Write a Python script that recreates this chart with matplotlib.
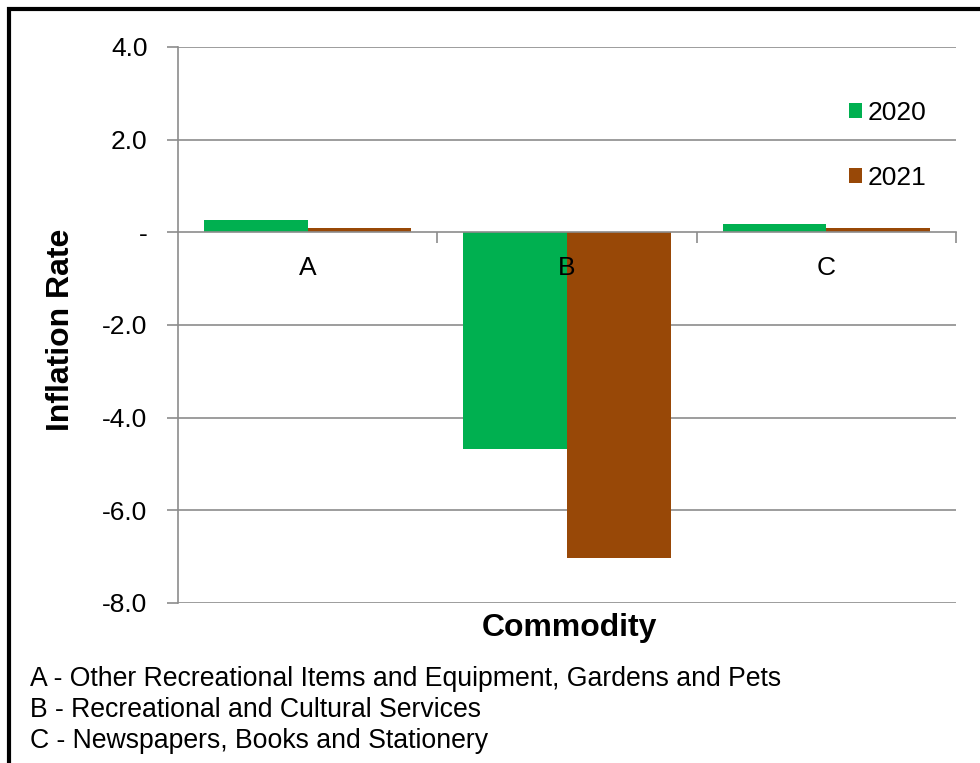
import matplotlib
matplotlib.use("Agg")
import matplotlib.pyplot as plt
from matplotlib.patches import Patch, Rectangle
import numpy as np

plt.rcParams['font.family'] = ['Liberation Sans', 'DejaVu Sans']

categories = ["A", "B", "C"]
series_names = ["2020", "2021"]
values_2020 = [0.27, -4.68, 0.18]
values_2021 = [0.09, -7.03, 0.09]
colors = ["#00B050", "#984807"]
yticks = [4.0, 2.0, 0.0, -2.0, -4.0, -6.0, -8.0]
footnotes = [
    "A - Other Recreational Items and Equipment, Gardens and Pets",
    "B - Recreational and Cultural Services",
    "C - Newspapers, Books and Stationery",
]

W, H = 980, 763
fig = plt.figure(figsize=(W / 100, H / 100), dpi=100)
ax = fig.add_axes([178 / W, 1 - 603 / H, (956 - 178) / W, (603 - 47) / H])

x = np.arange(len(categories))
bw = 0.4
ax.bar(x - bw / 2, values_2020, bw, color=colors[0], label=series_names[0], zorder=2)
ax.bar(x + bw / 2, values_2021, bw, color=colors[1], label=series_names[1], zorder=2)
ax.set_axisbelow(False)

grid_c = "#8c8c8c"
ax.set_xlim(-0.5, 2.5)
ax.set_ylim(-8, 4)
ax.set_yticks(yticks)
ax.set_yticklabels(["-" if v == 0 else f"{v:.1f}" for v in yticks])
for v in yticks:
    if v != 0:
        ax.axhline(v, color=grid_c, lw=1.2, zorder=1)

for s in ["top", "right"]:
    ax.spines[s].set_visible(False)
ax.spines["left"].set_color(grid_c)
ax.spines["left"].set_linewidth(1.2)
ax.spines["bottom"].set_position(("data", 0))
ax.spines["bottom"].set_color(grid_c)
ax.spines["bottom"].set_linewidth(1.2)

ax.set_xticks(x)
ax.set_xticklabels(categories)
ax.set_xticks([0.5, 1.5, 2.5], minor=True)
ax.tick_params(axis="x", which="major", length=0, pad=17, labelsize=19)
ax.tick_params(axis="x", which="minor", length=8, width=1.2, color=grid_c, direction="out")
ax.tick_params(axis="y", length=8, width=1.2, color=grid_c, direction="out", pad=14, labelsize=19)

fig.text(61 / W, 1 - 330 / H, "Inflation Rate", rotation=90, fontsize=23, fontweight="bold",
         ha="center", va="center")
fig.text(569 / W, 1 - 628 / H, "Commodity", fontsize=23, fontweight="bold", ha="center", va="center")

for i, t in enumerate(footnotes):
    fig.text(30 / W, 1 - (679 + 31 * i) / H, t, fontsize=19.2, ha="left", va="center")

handles = [Patch(facecolor=colors[0], label=series_names[0]),
           Patch(facecolor=colors[1], label=series_names[1])]
fig.legend(handles=handles, loc="center left", bbox_to_anchor=(849 / W, 1 - 145.5 / H),
           frameon=False, fontsize=19, handlelength=0.5, handleheight=0.5,
           handletextpad=0.22, labelspacing=1.55, borderpad=0, borderaxespad=0)

fig.patches.append(Rectangle((9 / W, -0.1), 1.2, 1.1 - 9.5 / H, transform=fig.transFigure,
                             fill=False, edgecolor="black", linewidth=3, zorder=10))

fig.savefig("out.png", dpi=100)
